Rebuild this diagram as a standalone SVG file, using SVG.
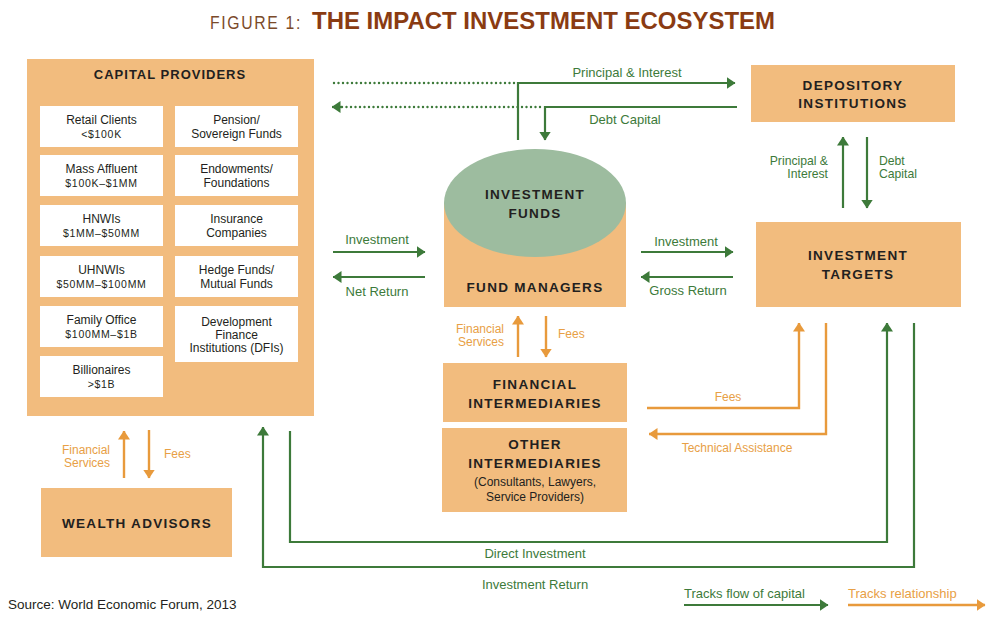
<svg xmlns="http://www.w3.org/2000/svg" width="990" height="621" viewBox="0 0 990 621">
<style>
.box{fill:#F2BC7E}
.wb{fill:#ffffff}
.bt{font-family:"Liberation Sans",Arial,sans-serif;font-weight:bold;font-size:13.5px;letter-spacing:1.3px;fill:#231F20;text-anchor:middle}
.st{font-family:"Liberation Sans",Arial,sans-serif;font-size:12px;fill:#231F20;text-anchor:middle}
.am{font-family:"Liberation Sans",Arial,sans-serif;font-size:10.5px;letter-spacing:0.7px;fill:#231F20;text-anchor:middle}
.gl{font-family:"Liberation Sans",Arial,sans-serif;font-size:13px;fill:#3D7A3A}
.ol{font-family:"Liberation Sans",Arial,sans-serif;font-size:12px;fill:#E8A045}
.g{fill:none;stroke:#3D7A3A;stroke-width:2.2}
.gd{fill:none;stroke:#3D7A3A;stroke-width:2.4;stroke-dasharray:0 4.5;stroke-linecap:round}
.o{fill:none;stroke:#E89A3C;stroke-width:2.4}
.mid{text-anchor:middle}
.end{text-anchor:end}
.sm{font-size:12.2px}
</style>
<defs>
<marker id="ag" viewBox="0 0 9 12" refX="8.5" refY="6" markerWidth="9" markerHeight="12" markerUnits="userSpaceOnUse" orient="auto"><path d="M0,0 L9,6 L0,12 z" fill="#3D7A3A"/></marker>
<marker id="ao" viewBox="0 0 9 12" refX="8.5" refY="6" markerWidth="9" markerHeight="12" markerUnits="userSpaceOnUse" orient="auto"><path d="M0,0 L9,6 L0,12 z" fill="#E89A3C"/></marker>
</defs>

<g id="title">
<text x="210" y="29" font-family="Liberation Sans,Arial,sans-serif" font-size="19" letter-spacing="2" fill="#7B4A2A" textLength="92" lengthAdjust="spacingAndGlyphs">FIGURE 1:</text>
<text x="312" y="29" font-family="Liberation Sans,Arial,sans-serif" font-size="23" font-weight="bold" fill="#8A3B12" textLength="463" lengthAdjust="spacingAndGlyphs">THE IMPACT INVESTMENT ECOSYSTEM</text>
</g>

<g id="capital-providers">
<rect class="box" x="27" y="59" width="287" height="357"/>
<text class="bt" x="170" y="79" style="font-size:13px;letter-spacing:1px">CAPITAL PROVIDERS</text>
<g id="retail-clients"><rect class="wb" x="40" y="106" width="123" height="41"/><text class="st" x="101.5" y="124">Retail Clients</text><text class="am" x="101.5" y="138">&lt;$100K</text></g>
<g id="mass-affluent"><rect class="wb" x="40" y="155" width="123" height="41"/><text class="st" x="101.5" y="173">Mass Affluent</text><text class="am" x="101.5" y="187">$100K–$1MM</text></g>
<g id="hnwis"><rect class="wb" x="40" y="205" width="123" height="41"/><text class="st" x="101.5" y="223">HNWIs</text><text class="am" x="101.5" y="237">$1MM–$50MM</text></g>
<g id="uhnwis"><rect class="wb" x="40" y="256" width="123" height="41"/><text class="st" x="101.5" y="274">UHNWIs</text><text class="am" x="101.5" y="288">$50MM–$100MM</text></g>
<g id="family-office"><rect class="wb" x="40" y="306" width="123" height="41"/><text class="st" x="101.5" y="324">Family Office</text><text class="am" x="101.5" y="338">$100MM–$1B</text></g>
<g id="billionaires"><rect class="wb" x="40" y="356" width="123" height="41"/><text class="st" x="101.5" y="374">Billionaires</text><text class="am" x="101.5" y="388">&gt;$1B</text></g>
<g id="pension"><rect class="wb" x="175" y="106" width="123" height="41"/><text class="st" x="236.5" y="124">Pension/</text><text class="st" x="236.5" y="138">Sovereign Funds</text></g>
<g id="endowments"><rect class="wb" x="175" y="155" width="123" height="41"/><text class="st" x="236.5" y="173">Endowments/</text><text class="st" x="236.5" y="187">Foundations</text></g>
<g id="insurance"><rect class="wb" x="175" y="205" width="123" height="41"/><text class="st" x="236.5" y="223">Insurance</text><text class="st" x="236.5" y="237">Companies</text></g>
<g id="hedge-funds"><rect class="wb" x="175" y="256" width="123" height="41"/><text class="st" x="236.5" y="274">Hedge Funds/</text><text class="st" x="236.5" y="288">Mutual Funds</text></g>
<g id="dfis"><rect class="wb" x="175" y="306" width="123" height="56"/><text class="st" x="236.5" y="326">Development</text><text class="st" x="236.5" y="339">Finance</text><text class="st" x="236.5" y="352">Institutions (DFIs)</text></g>
</g>

<g id="depository-institutions">
<rect class="box" x="751" y="65" width="204" height="57"/>
<text class="bt" x="853" y="90">DEPOSITORY</text>
<text class="bt" x="853" y="108">INSTITUTIONS</text>
</g>

<g id="investment-targets">
<rect class="box" x="756" y="222" width="205" height="85"/>
<text class="bt" x="858" y="260">INVESTMENT</text>
<text class="bt" x="858" y="279">TARGETS</text>
</g>

<g id="fund-managers">
<rect class="box" x="444" y="203" width="182" height="104"/>
<text class="bt" x="535" y="292">FUND MANAGERS</text>
</g>

<g id="investment-funds">
<ellipse cx="535" cy="203" rx="91" ry="54" fill="#9DBC9F"/>
<text class="bt" x="535" y="199">INVESTMENT</text>
<text class="bt" x="535" y="218">FUNDS</text>
</g>

<g id="financial-intermediaries">
<rect class="box" x="443" y="363" width="184" height="59"/>
<text class="bt" x="535" y="389">FINANCIAL</text>
<text class="bt" x="535" y="408">INTERMEDIARIES</text>
</g>

<g id="other-intermediaries">
<rect class="box" x="442" y="428" width="185" height="84"/>
<text class="bt" x="535" y="449">OTHER</text>
<text class="bt" x="535" y="468">INTERMEDIARIES</text>
<text class="st" x="535" y="486">(Consultants, Lawyers,</text>
<text class="st" x="535" y="501">Service Providers)</text>
</g>

<g id="wealth-advisors">
<rect class="box" x="41" y="488" width="191" height="69"/>
<text class="bt" x="137" y="528">WEALTH ADVISORS</text>
</g>

<g id="connectors">
<line class="gd" x1="334" y1="83" x2="516" y2="83"/>
<path class="g" d="M518 140 V83 H735" marker-end="url(#ag)"/>
<line class="gd" x1="342" y1="107" x2="543" y2="107"/>
<path class="g" d="M737 107 H545 V140" marker-end="url(#ag)"/>
<path class="g" d="M342 107 H332" marker-end="url(#ag)"/>
<text class="gl mid" x="627" y="77">Principal &amp; Interest</text>
<text class="gl mid" x="625" y="124">Debt Capital</text>

<path class="g" d="M843 208 V137" marker-end="url(#ag)"/>
<path class="g" d="M867 137 V208" marker-end="url(#ag)"/>
<text class="gl end sm" x="828" y="165">Principal &amp;</text>
<text class="gl end sm" x="828" y="178">Interest</text>
<text class="gl sm" x="879" y="165">Debt</text>
<text class="gl sm" x="879" y="178">Capital</text>

<path class="g" d="M333 252 H425" marker-end="url(#ag)"/>
<path class="g" d="M425 277 H333" marker-end="url(#ag)"/>
<text class="gl mid" x="377" y="244">Investment</text>
<text class="gl mid" x="377" y="296">Net Return</text>

<path class="g" d="M641 252 H733" marker-end="url(#ag)"/>
<path class="g" d="M733 277 H641" marker-end="url(#ag)"/>
<text class="gl mid" x="686" y="246">Investment</text>
<text class="gl mid" x="688" y="295">Gross Return</text>

<path class="o" d="M518 357 V316" marker-end="url(#ao)"/>
<path class="o" d="M546 316 V357" marker-end="url(#ao)"/>
<text class="ol end" x="504" y="333">Financial</text>
<text class="ol end" x="504" y="346">Services</text>
<text class="ol" x="558" y="338">Fees</text>

<path class="o" d="M647 408 H799 V323" marker-end="url(#ao)"/>
<path class="o" d="M826 323 V434 H649" marker-end="url(#ao)"/>
<text class="ol mid" x="728" y="401">Fees</text>
<text class="ol mid" x="737" y="452">Technical Assistance</text>

<path class="g" d="M290 431 V542 H887 V323" marker-end="url(#ag)"/>
<path class="g" d="M914 323 V567 H263 V427" marker-end="url(#ag)"/>
<text class="gl mid" x="535" y="558">Direct Investment</text>
<text class="gl mid" x="535" y="589">Investment Return</text>

<path class="o" d="M124 478 V431" marker-end="url(#ao)"/>
<path class="o" d="M149 430 V478" marker-end="url(#ao)"/>
<text class="ol end" x="110" y="454">Financial</text>
<text class="ol end" x="110" y="467">Services</text>
<text class="ol" x="164" y="458">Fees</text>
</g>

<g id="legend">
<path class="g" d="M684 605 H828" marker-end="url(#ag)"/>
<text class="gl" x="684" y="598">Tracks flow of capital</text>
<path class="o" d="M848 605 H985" marker-end="url(#ao)"/>
<text class="ol" x="848" y="598" style="font-size:13px">Tracks relationship</text>
</g>

<text id="source" x="8" y="609" font-family="Liberation Sans,Arial,sans-serif" font-size="13.5" fill="#231F20">Source: World Economic Forum, 2013</text>
</svg>
